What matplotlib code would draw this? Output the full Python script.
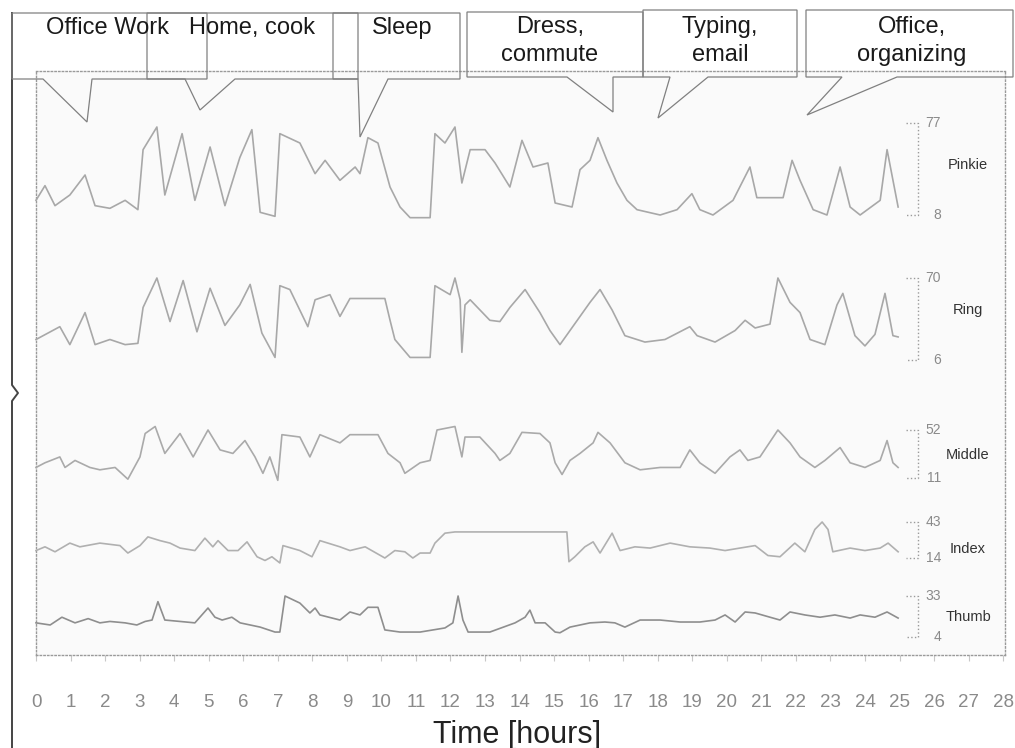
import numpy as np
import matplotlib.pyplot as plt
from matplotlib.patches import Polygon
from matplotlib.transforms import blended_transform_factory

plt.rcParams['font.family'] = ['Liberation Sans', 'DejaVu Sans']

# ---- data (hours, joint angle in degrees) ----
pinkie_t = [0.0, 0.26, 0.55, 0.98, 1.42, 1.71, 2.14, 2.58, 2.95, 3.1, 3.5, 3.73, 4.23, 4.6, 5.04,
            5.47, 5.9, 6.25, 6.49, 6.92, 7.06, 7.64, 8.08, 8.37, 8.8, 9.24, 9.38, 9.61, 9.9, 10.25,
            10.54, 10.83, 11.41, 11.55, 11.84, 12.13, 12.33, 12.57, 13.0, 13.29, 13.72, 14.07, 14.39,
            14.82, 15.03, 15.52, 15.75, 16.04, 16.27, 16.53, 16.82, 17.11, 17.4, 18.07, 18.56, 18.99,
            19.22, 19.6, 20.18, 20.67, 20.87, 21.63, 21.89, 22.12, 22.5, 22.9, 23.28, 23.57, 23.86,
            24.44, 24.64, 24.96]
pinkie_v = [19, 30, 15, 23, 38, 15, 13, 19, 12, 57, 74, 23, 69, 19, 59,
            15, 51, 72, 10, 7, 69, 62, 39, 49, 34, 44, 39, 66, 62, 29,
            14, 6, 6, 69, 62, 74, 32, 57, 57, 47, 29, 64, 44,
            47, 17, 14, 42, 49, 66, 49, 32, 19, 12, 8, 12, 24,
            12, 8, 19, 44, 21, 21, 49, 34, 12, 8, 44, 14, 8,
            19, 57, 14]

ring_t = [0.0, 0.69, 0.98, 1.42, 1.71, 2.14, 2.58, 2.95, 3.1, 3.5, 3.88, 4.26, 4.66, 5.04, 5.47,
          5.9, 6.2, 6.54, 6.92, 7.06, 7.35, 7.87, 8.08, 8.51, 8.8, 9.09, 10.1, 10.25, 10.39, 10.83,
          11.41, 11.55, 11.99, 12.13, 12.28, 12.33, 12.42, 12.57, 13.14, 13.43, 13.72, 14.16, 14.59,
          14.88, 15.17, 15.46, 16.04, 16.33, 16.68, 17.05, 17.63, 18.21, 18.93, 19.14, 19.66, 20.24,
          20.53, 20.82, 21.25, 21.48, 21.83, 22.12, 22.41, 22.84, 23.19, 23.36, 23.71, 24.0, 24.29,
          24.58, 24.81, 24.96]
ring_v = [22, 32, 18, 43, 18, 22, 18, 19, 47, 70, 36, 68, 28, 62, 33,
          49, 65, 27, 8, 64, 61, 32, 53, 57, 40, 54, 54, 37, 22, 8,
          8, 64, 57, 70, 53, 12, 49, 53, 37, 36, 47, 61, 43,
          29, 18, 29, 51, 61, 45, 25, 20, 22, 32, 25, 20, 29,
          37, 31, 34, 70, 51, 43, 22, 18, 49, 58, 25, 17, 26,
          58, 25, 24]

middle_t = [0.0, 0.26, 0.69, 0.84, 1.13, 1.56, 1.85, 2.29, 2.66, 3.01, 3.16, 3.45, 3.73, 4.17, 4.55,
            4.98, 5.33, 5.7, 6.05, 6.34, 6.57, 6.77, 7.0, 7.12, 7.64, 7.93, 8.22, 8.8, 9.09, 9.9,
            10.19, 10.54, 10.68, 11.12, 11.41, 11.61, 12.13, 12.33, 12.42, 12.85, 13.29, 13.43, 13.72,
            14.07, 14.59, 14.88, 15.03, 15.23, 15.46, 15.75, 16.13, 16.27, 16.62, 17.05, 17.49, 18.07,
            18.65, 18.93, 19.22, 19.66, 20.09, 20.38, 20.61, 20.96, 21.48, 21.83, 22.12, 22.55, 22.84,
            23.28, 23.57, 24.0, 24.44, 24.64, 24.81, 24.96]
middle_v = [20, 24, 29, 20, 26, 20, 18, 20, 10, 29, 49, 55, 32, 49, 29,
            52, 35, 32, 43, 29, 15, 29, 9, 48, 46, 29, 48, 41, 48, 48,
            32, 24, 15, 24, 26, 52, 55, 29, 46, 46, 32, 26, 32,
            50, 49, 41, 24, 14, 26, 32, 41, 50, 41, 24, 18, 20,
            20, 35, 24, 15, 29, 35, 26, 29, 52, 41, 29, 20, 26,
            37, 24, 20, 26, 43, 24, 20]

index_t = [0.0, 0.26, 0.55, 0.98, 1.27, 1.85, 2.43, 2.66, 3.01, 3.24, 3.59, 3.88, 4.17, 4.6, 4.89,
           5.12, 5.27, 5.56, 5.85, 6.11, 6.4, 6.63, 6.83, 7.06, 7.15, 7.64, 7.99, 8.22, 8.8, 9.09,
           9.53, 10.1, 10.39, 10.68, 10.91, 11.12, 11.41, 11.55, 11.84, 12.13, 15.37, 15.43, 15.6,
           15.89, 16.13, 16.33, 16.68, 16.91, 17.34, 17.78, 18.36, 18.93, 19.51, 19.95, 20.38, 20.82,
           21.19, 21.54, 21.97, 22.26, 22.55, 22.76, 22.93, 23.07, 23.57, 24.0, 24.44, 24.67, 24.96]
index_v = [20, 23, 19, 26, 23, 26, 24, 18, 24, 31, 28, 26, 22, 20, 30,
           23, 28, 20, 20, 27, 15, 12, 15, 10, 24, 20, 15, 28, 23, 20,
           23, 14, 20, 19, 14, 18, 18, 26, 34, 35, 35, 11, 15,
           23, 27, 18, 34, 20, 23, 22, 26, 23, 22, 20, 22, 24,
           16, 15, 26, 19, 37, 43, 37, 19, 22, 20, 22, 26, 19]

thumb_t = [0.0, 0.41, 0.75, 1.13, 1.51, 1.85, 2.14, 2.58, 2.92, 3.16, 3.36, 3.53, 3.73, 4.17, 4.6,
           4.98, 5.18, 5.39, 5.67, 5.91, 6.2, 6.49, 6.92, 7.06, 7.21, 7.64, 7.93, 8.08, 8.22, 8.8,
           9.09, 9.38, 9.61, 9.9, 10.1, 10.54, 11.12, 11.84, 12.07, 12.22, 12.36, 12.51, 13.14, 13.87,
           14.16, 14.3, 14.45, 14.74, 15.03, 15.17, 15.46, 16.04, 16.47, 16.76, 17.05, 17.49, 18.07,
           18.65, 19.22, 19.66, 19.95, 20.24, 20.53, 20.82, 21.25, 21.54, 21.83, 22.26, 22.7, 23.13,
           23.57, 23.86, 24.29, 24.64, 24.96]
thumb_v = [14, 12.5, 18, 14, 17, 14, 15, 14, 12.5, 15, 16, 29, 16, 15, 14,
           24.5, 18, 16, 18, 14, 12.5, 11, 7.5, 7.5, 33, 28, 21, 24.5, 19.6, 16,
           21.7, 19.6, 25, 25, 9, 7.5, 7.5, 10.4, 14, 33, 16, 7.5, 7.5, 14,
           18, 23, 14, 14, 7.5, 7, 11, 14, 14.6, 14, 11, 16, 16,
           14.6, 14.6, 16, 19.6, 14.6, 21.7, 21, 18, 16, 21.7, 19.6, 18, 19.6,
           17.4, 19.6, 18, 21.7, 17.4]

fingers = ['Pinkie', 'Ring', 'Middle', 'Index', 'Thumb']
ranges = [(8, 77), (6, 70), (11, 52), (14, 43), (4, 33)]
series = [(pinkie_t, pinkie_v), (ring_t, ring_v), (middle_t, middle_v),
          (index_t, index_v), (thumb_t, thumb_v)]

hours = list(range(0, 29))

callout_labels = ['Office Work', 'Home, cook', 'Sleep', 'Dress,\ncommute', 'Typing,\nemail',
                  'Office,\norganizing']

# ---- layout (pixels of a 1015x748 canvas) ----
W, H = 1015, 748
px_per_hour = 34.54
left, right, top, bottom = 36, 1005, 71, 655
band_px = [(123, 215), (278, 360), (430, 478), (522, 558), (596, 637)]
name_frac = [0.54, 0.61, 0.48, 0.25, 0.49]
line_cols = ['#a8a8a8', '#a8a8a8', '#aaaaaa', '#b0b0b0', '#8e8e8e']

fig = plt.figure(figsize=(W / 100, H / 100), dpi=100)
xmax = (right - left) / px_per_hour

ax = fig.add_axes([left / W, 1 - bottom / H, (right - left) / W, (bottom - top) / H])
ax.set_facecolor('#fafafa')
ax.set_xlim(0, xmax)
ax.set_ylim(0, 1)
ax.set_yticks([])
ax.set_xticks(hours)
ax.set_xticklabels([str(h) for h in hours], color='#8a8a8a', fontsize=13.5,
                   family=['Liberation Sans Narrow', 'Liberation Sans'])
ax.tick_params(axis='x', length=4, color='#c8c8c8', pad=24)
for s in ax.spines.values():
    s.set_linestyle(':')
    s.set_color('#9a9a9a')
    s.set_linewidth(1.0)

fig.text(517 / W, 1 - 735 / H, 'Time [hours]', ha='center', va='center', fontsize=22,
         color='#222222')

# one transparent axes per finger so each trace gets its own scale
for i, name in enumerate(fingers):
    t_, v_ = series[i]
    lo, hi = ranges[i]
    btop, bbot = band_px[i]
    a = fig.add_axes([left / W, 1 - bbot / H, (right - left) / W, (bbot - btop) / H])
    a.set_xlim(0, xmax)
    a.set_ylim(lo, hi)
    a.axis('off')
    a.plot(t_, v_, color=line_cols[i], lw=1.2, clip_on=False)
    xb0 = (906 - left) / px_per_hour
    xb1 = (918 - left) / px_per_hour
    a.plot([xb0, xb1, xb1, xb0], [hi, hi, lo, lo], color='#9a9a9a', lw=1.0, ls=':',
           clip_on=False)
    xl = (941 - left) / px_per_hour
    a.text(xl, hi, str(hi), ha='right', va='center', fontsize=10, color='#8a8a8a',
           family=['Liberation Sans Narrow', 'Liberation Sans'])
    a.text(xl, lo, str(lo), ha='right', va='center', fontsize=10, color='#8a8a8a',
           family=['Liberation Sans Narrow', 'Liberation Sans'])
    tr = blended_transform_factory(a.transData, a.transAxes)
    a.text((968 - left) / px_per_hour, name_frac[i], name, transform=tr, ha='center',
           va='center', fontsize=10.5, color='#333333')

# callout boxes: (left, top, right, bottom, tail base 1, tail base 2, tip x, tip y, text x)
boxes = [(12, 13, 207, 79, 43, 92, 87, 122, 107),
         (147, 13, 358, 79, 185, 235, 200, 110, 252),
         (333, 13, 460, 79, 358, 388, 360, 137, 402),
         (467, 12, 643, 77, 567, 613, 613, 112, 550),
         (643, 10, 797, 77, 670, 708, 658, 118, 720),
         (806, 10, 1013, 77, 842, 897, 807, 115, 912)]


def P(x, y):
    return (x / W, 1 - y / H)


for lab, (l, t, r, b, b1, b2, tx, ty, cx) in zip(callout_labels, boxes):
    pts = [P(l, t), P(r, t), P(r, b), P(b2, b), P(tx, ty), P(b1, b), P(l, b)]
    fig.patches.append(Polygon(pts, closed=True, transform=fig.transFigure, fill=False,
                               edgecolor='#808080', lw=0.9, zorder=5))
    cy = 28 if '\n' not in lab else 41
    fig.text(cx / W, 1 - cy / H, lab, ha='center', va='center', fontsize=17,
             color='#1a1a1a', linespacing=1.3, zorder=6)

# brace along the left edge
bx = [12, 12, 15, 18, 15, 12, 12]
by = [13, 385, 389, 393, 397, 401, 748]
fig.lines.append(plt.Line2D([x / W for x in bx], [1 - y / H for y in by],
                            transform=fig.transFigure, color='#444444', lw=1.4))

fig.savefig('out.png', dpi=100, facecolor='white')
